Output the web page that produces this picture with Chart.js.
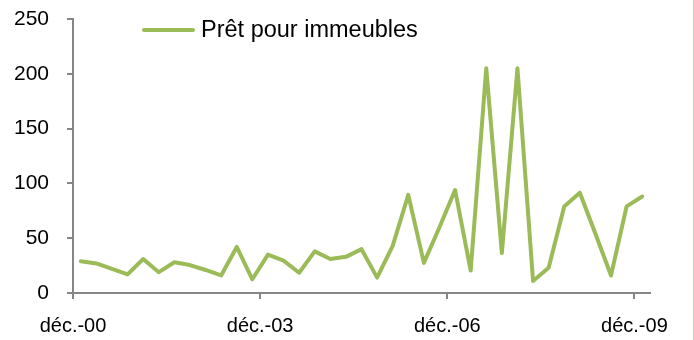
<!DOCTYPE html>
<html lang="fr">
<head>
<meta charset="utf-8">
<script src="https://cdn.jsdelivr.net/npm/chart.js@4/dist/chart.umd.min.js"></script>
<style>
    html, body { margin: 0; padding: 0; background: #fff; }
    #wrap { position: relative; width: 694px; height: 340px; overflow: hidden; }
    #wrap::after { content: ''; position: absolute; top: 0; right: 0; width: 1px; height: 340px; background: #c4d79b; }
    #legende { position: absolute; left: 142px; top: 16px; display: flex; align-items: center; font-family: 'Liberation Sans', Arial, sans-serif; font-size: 23.5px; color: #000; white-space: nowrap; }
    #legende .trait { width: 53px; height: 4px; border-radius: 2px; margin-right: 6px; }
</style>
</head>
<body>
<div id="wrap">
    <canvas id="graphique" width="694" height="340"></canvas>
    <div id="legende"></div>
</div>
<script>
// trimestres de déc.-00 à déc.-09
const annees = ['00', '01', '02', '03', '04', '05', '06', '07', '08', '09'];
const mois = ['mars', 'juin', 'sept.', 'déc.'];
const trimestres = ['déc.-00'];
annees.slice(1).forEach(a => mois.forEach(m => trimestres.push(`${m}-${a}`)));

const serieNom = 'Prêt pour immeubles';
const pretImmeubles = [
    29, 27, 22, 17, 31, 19, 28, 25.5, 21, 16, 42, 12.5, 35,
    29.5, 18.5, 38, 31, 33, 40, 14, 43, 89.5, 27.5, 60,
    94, 20.5, 205, 36.5, 205, 11, 23, 79, 91.5, 54, 16, 79, 88
];
const ticksX = [0, 12, 24, 36];
const ticksY = [0, 50, 100, 150, 200, 250];

const vert = '#9bbb59';
const gris = '#868686';
const police = "'Liberation Sans', Arial, sans-serif";

const points = pretImmeubles.map((v, i) => ({ x: i + 0.5, y: v }));

new Chart(document.getElementById('graphique').getContext('2d'), {
    type: 'line',
    data: {
        datasets: [{
            label: serieNom,
            data: points,
            borderColor: vert,
            borderWidth: 4,
            borderJoinStyle: 'round',
            borderCapStyle: 'round',
            pointRadius: 0,
            tension: 0,
            fill: false
        }]
    },
    options: {
        responsive: false,
        animation: false,
        layout: { padding: { top: 19, right: 44, bottom: 0, left: 0 } },
        plugins: { legend: { display: false }, tooltip: { enabled: false } },
        scales: {
            x: {
                type: 'linear',
                min: 0,
                max: trimestres.length,
                afterBuildTicks: s => { s.ticks = ticksX.map(v => ({ value: v })); },
                afterFit: s => { s.height = 47; },
                ticks: {
                    autoSkip: false,
                    maxRotation: 0,
                    padding: 15,
                    color: '#000',
                    font: { family: police, size: 20 },
                    callback: v => trimestres[v]
                },
                grid: { drawOnChartArea: false, drawTicks: true, tickLength: 6, color: gris, lineWidth: 2 },
                border: { color: gris, width: 2 }
            },
            y: {
                min: 0,
                max: 250,
                afterBuildTicks: s => { s.ticks = ticksY.map(v => ({ value: v })); },
                // le padding des étiquettes ne doit pas rogner la hauteur utile
                afterFit: s => { s.width = 73; s.paddingTop = 0; s.paddingBottom = 0; },
                ticks: {
                    padding: 18,
                    color: '#000',
                    font: { family: police, size: 21 }
                },
                grid: { drawOnChartArea: false, drawTicks: true, tickLength: 6, color: gris, lineWidth: 2 },
                border: { color: gris, width: 2 }
            }
        }
    }
});

// légende posée dans la zone du graphique
const legende = document.getElementById('legende');
legende.innerHTML = `<span class="trait" style="background:${vert}"></span><span>${serieNom}</span>`;
</script>
</body>
</html>
